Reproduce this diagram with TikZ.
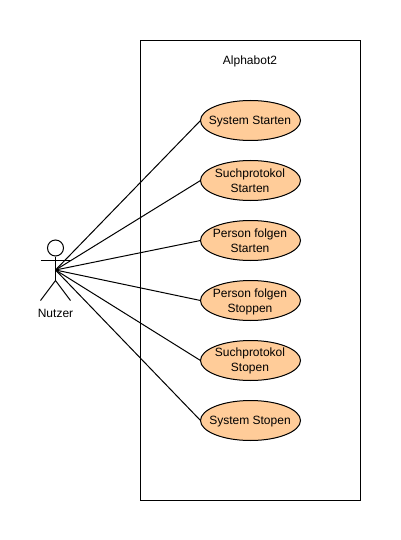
\documentclass[tikz,border=0pt]{standalone}
\usepackage{fontspec}
\setmainfont{Liberation Sans}
\usetikzlibrary{shapes.geometric}
\definecolor{ucfill}{HTML}{FFCC99}
\tikzset{
  usecase/.style={ellipse,draw=black,fill=ucfill,line width=1pt,minimum width=100pt,minimum height=40pt,inner sep=0pt,outer sep=0pt},
  lbl/.style={inner sep=0pt,align=center,font=\fontsize{12}{15}\selectfont},
  stroke/.style={draw=black,line width=1pt},
  link/.style={draw=black,line width=1pt}
}
\begin{document}
\begin{tikzpicture}[x=1pt,y=-1pt]
\useasboundingbox (0,0) rectangle (400,540);
\fill[white] (0,0) rectangle (400,540);
\node[draw=black,line width=1pt,minimum width=220pt,minimum height=460pt,inner sep=0pt] (system) at (250.5,270.5) {};
\node[lbl] (title) at (250,61) {Alphabot2};
\node[usecase] (u1) at (250.5,120.5) {};
\node[usecase] (u2) at (250.5,180.5) {};
\node[usecase] (u3) at (250.5,240.5) {};
\node[usecase] (u4) at (250.5,300.5) {};
\node[usecase] (u5) at (250.5,360.5) {};
\node[usecase] (u6) at (250.5,420.5) {};
\node[lbl] (t1) at (250,121.5) {System Starten};
\node[lbl] (t2) at (250,181) {Suchprotokol\\Starten};
\node[lbl] (t3) at (250,241) {Person folgen\\Starten};
\node[lbl] (t4) at (250,301.5) {Person folgen\\Stoppen};
\node[lbl] (t5) at (250,361) {Suchprotokol\\Stopen};
\node[lbl] (t6) at (250,421.5) {System Stopen};
% actor
\node[circle,draw=black,line width=1pt,minimum size=16pt,inner sep=0pt] (head) at (55.5,248) {};
\coordinate (hub) at (55.5,270);
\coordinate (arml) at (40.5,260.5);
\coordinate (armr) at (70.5,260.5);
\coordinate (hip) at (55.5,280.5);
\coordinate (legl) at (40.5,300.5);
\coordinate (legr) at (70.5,300.5);
\draw[stroke] (head.south) -- (hip);
\draw[stroke] (arml) -- (armr);
\draw[stroke] (legl) -- (hip) -- (legr);
\node[lbl] (actor) at (55.5,313) {Nutzer};
\foreach \u in {u1,u2,u3,u4,u5,u6}
  \draw[link] (hub) -- (\u.west);
\end{tikzpicture}
\end{document}
